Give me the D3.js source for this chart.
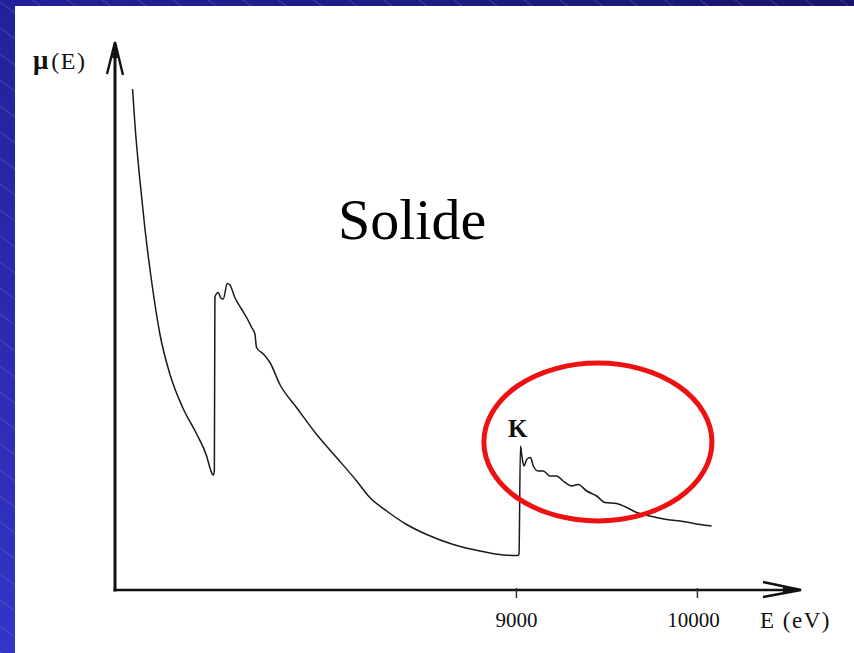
<!DOCTYPE html>
<html><head><meta charset="utf-8">
<script src="https://cdn.jsdelivr.net/npm/d3@7"></script>
<style>html,body{margin:0;padding:0;overflow:hidden;background:#1c1c80}</style>
</head><body>
<script>
// Energy (eV) of the absorption spectrum samples
const energy = [6882,6895,6923,6950,6987,7033,7088,7160,7236,7291,7310,7322,7330,
  7334,7337,7355,7370,7383,7405,7420,7447,7484,7512,7540,7558,7567,7604,7641,7696,
  7788,7899,8009,8120,8193,8286,8396,8507,8654,8801,8930,9011,
  9017,9025,9033,9044,9061,9081,9096,9123,9151,9188,9225,9261,9308,9344,9391,9446,
  9492,9556,9612,9667,9740,9833,9924,10017,10081];
// absorption coefficient mu(E), arbitrary units
const mu = [100.2,93.2,81.8,72.4,61.8,51.2,43.2,36.4,31.2,26.8,24.4,23.2,23.0,
  24.0,58.6,59.5,58.4,58.2,61.3,61.0,58.5,56.2,54.5,52.5,51.2,48.5,47.2,45.5,41.1,
  36.5,31.1,26.5,21.8,18.5,15.8,13.1,11.1,9.1,7.8,7.0,6.9,
  7.2,28.8,26.8,24.8,26.2,26.5,24.8,23.8,23.8,22.8,22.8,21.8,20.8,21.1,19.8,18.8,
  17.5,17.3,16.5,15.5,14.8,14.1,13.7,13.1,12.8];
const xTicks = [9000, 10000];
const xTickLabels = ["9000", "10000"];
const xDomain = [6785, 10575];
const yDomain = [0, 109];
const title = "Solide";
const edgeLabel = "K";
const edgeLabelE = 9010;
const highlight = {cx: 9453, cy: 29.6, rx: 630, ry: 15.8};

const W = 854, H = 653;
const svg = d3.select("body").append("svg").attr("width", W).attr("height", H);
const defs = svg.append("defs");
const grad = defs.append("linearGradient").attr("id","bg")
  .attr("x1","1").attr("y1","0").attr("x2","0").attr("y2","1");
grad.append("stop").attr("offset","0").attr("stop-color","#16166c");
grad.append("stop").attr("offset","0.5").attr("stop-color","#22229a");
grad.append("stop").attr("offset","1").attr("stop-color","#3434c8");
svg.append("rect").attr("width",W).attr("height",H).attr("fill","url(#bg)");
// diagonal stripes
const stripes = svg.append("g").attr("stroke","#7a7ae0").attr("stroke-opacity",0.45).attr("stroke-width",1);
for (let c = -700; c < 700; c += 26) {
  stripes.append("line").attr("x1",0).attr("y1",c).attr("x2",W).attr("y2",c + 0.74*W);
}
// white slide panel
svg.append("rect").attr("x",15).attr("y",6).attr("width",W-15).attr("height",H-6).attr("fill","#ffffff");

const x = d3.scaleLinear().domain(xDomain).range([115, 801]);
const y = d3.scaleLinear().domain(yDomain).range([590, 45]);

const serif = "'Liberation Serif','Times New Roman',serif";

// axes lines
const axCol = "#111";
svg.append("line").attr("x1",x.range()[0]).attr("x2",x.range()[0])
  .attr("y1",y.range()[0]+1.5).attr("y2",44).attr("stroke",axCol).attr("stroke-width",3);
svg.append("line").attr("x1",x.range()[0]-1.5).attr("x2",x.range()[1]-4)
  .attr("y1",y.range()[0]).attr("y2",y.range()[0]).attr("stroke",axCol).attr("stroke-width",2.6);
// arrow heads
const yTip = [x.range()[0], 42];
svg.append("path").attr("d",`M${yTip[0]-8},${yTip[1]+32} L${yTip[0]},${yTip[1]} L${yTip[0]+8},${yTip[1]+33}`)
  .attr("fill","none").attr("stroke",axCol).attr("stroke-width",2.4);
svg.append("path").attr("d",`M${yTip[0]-3},${yTip[1]+16} L${yTip[0]},${yTip[1]+2} L${yTip[0]+3},${yTip[1]+16}Z`).attr("fill",axCol);
const xTip = [x.range()[1], y.range()[0]];
svg.append("path").attr("d",`M${xTip[0]-38},${xTip[1]-8} L${xTip[0]},${xTip[1]} L${xTip[0]-38},${xTip[1]+7}`)
  .attr("fill","none").attr("stroke",axCol).attr("stroke-width",2.4);
svg.append("path").attr("d",`M${xTip[0]-18},${xTip[1]-3} L${xTip[0]-2},${xTip[1]} L${xTip[0]-18},${xTip[1]+3}Z`).attr("fill",axCol);

// x axis ticks
const xAxis = d3.axisBottom(x).tickValues(xTicks).tickSize(10)
  .tickFormat((d,i) => xTickLabels[i]);
const gx = svg.append("g").attr("transform",`translate(0,${y.range()[0]-2})`).call(xAxis);
gx.select(".domain").remove();
gx.selectAll(".tick line").attr("stroke","#333").attr("stroke-width",1.5);
gx.selectAll(".tick text").attr("font-family",serif).attr("font-size",21)
  .attr("fill","#111").attr("y",24).attr("dy","0.71em").attr("dx",(d,i)=> i===1 ? -4 : 0);

// axis titles
svg.append("text").attr("x",760).attr("y",628).attr("font-family",serif).attr("font-size",23)
  .attr("letter-spacing","1.5px").attr("fill","#111").text("E (eV)");
const yl = svg.append("text").attr("x",33).attr("y",69).attr("font-family",serif).attr("font-size",24).attr("fill","#111");
yl.append("tspan").attr("font-weight","bold").attr("font-size",27).text("μ");
yl.append("tspan").attr("letter-spacing","1.5px").attr("dx",3).text("(E)");

// spectrum
const line = d3.line().x((d,i)=>x(energy[i])).y((d,i)=>y(mu[i])).curve(d3.curveMonotoneX);
svg.append("path").datum(mu).attr("d",line).attr("fill","none")
  .attr("stroke","#1a1a1a").attr("stroke-width",1.5).attr("stroke-linejoin","round");

// labels
svg.append("text").attr("x",x(edgeLabelE)).attr("y",437).attr("text-anchor","middle")
  .attr("font-family",serif).attr("font-size",25).attr("font-weight","600").attr("fill","#111").text(edgeLabel);
svg.append("text").attr("x",338).attr("y",239).attr("font-family",serif).attr("font-size",58)
  .attr("fill","#000").text(title);

// highlight ellipse
svg.append("ellipse").attr("cx",x(highlight.cx)).attr("cy",y(highlight.cy))
  .attr("rx",x(highlight.cx+highlight.rx)-x(highlight.cx))
  .attr("ry",y(highlight.cy-highlight.ry)-y(highlight.cy))
  .attr("fill","none").attr("stroke","#ee1111").attr("stroke-width",5);
</script>
</body></html>
